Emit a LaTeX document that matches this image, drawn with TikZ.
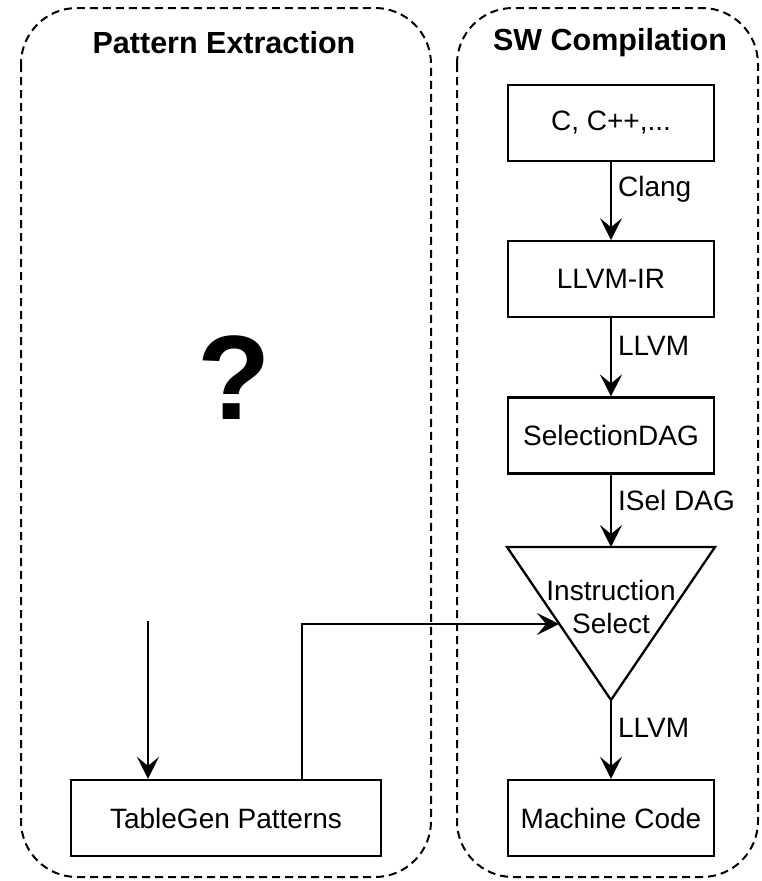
\documentclass[tikz,border=0pt]{standalone}
\usepackage{fontspec}
\setmainfont{Liberation Sans}
\usetikzlibrary{positioning, arrows.meta}

\begin{document}
\begin{tikzpicture}[x=1pt, y=-1pt,
    node distance=78pt,
    group/.style={draw, line width=2pt, dash pattern=on 8pt off 5pt, rounded corners=56pt},
    grouptitle/.style={font=\bfseries\fontsize{30.5}{34}\selectfont},
    stepbox/.style={draw, line width=2.3pt, minimum width=206pt, minimum height=76pt, font=\fontsize{28}{33}\selectfont},
    flow/.style={line width=2.3pt, -{Stealth[length=22pt, width=22pt, inset=9pt]}},
    lbl/.style={right, inner sep=6pt, font=\fontsize{28}{33}\selectfont}]
\useasboundingbox (0,0) rectangle (761,881);
% the two groups
\draw[group] (21,8) rectangle (431,877);
\draw[group] (457,8) rectangle (758,877);
\node[grouptitle] (pe title) at (224,43) {Pattern Extraction};
\node[grouptitle] (sw title) at (610,43) {SW Compilation};
\node[font=\bfseries\fontsize{120}{120}\selectfont] (unknown) at (234,378) {?};
% compilation flow
\node[stepbox] (src) at (611,123) {C, C++,...};
\node[stepbox, below=of src] (ir) {LLVM-IR};
\node[stepbox, below=of ir] (dag) {SelectionDAG};
\coordinate (isel top) at (611,547);
\coordinate (isel tip) at (611,700);
\coordinate (isel in) at (559,624);
\draw[line width=2.3pt, line join=miter] (507,547) -- (715,547) -- (isel tip) -- cycle;
\node[align=center, font=\fontsize{28}{33}\selectfont] (isel) at (611,607) {Instruction\\Select};
\node[stepbox] (mc) at (611,818) {Machine Code};
% patterns
\node[stepbox, minimum width=310pt] (tg) at (226,818) {TableGen Patterns};
\coordinate (tg feed) at (148,621);
% edges
\draw[flow] (src) -- node[lbl, pos=0.35] {Clang} (ir);
\draw[flow] (ir) -- node[lbl, pos=0.35] {LLVM} (dag);
\draw[flow] (dag) -- node[lbl, pos=0.35] {ISel DAG} (isel top);
\draw[flow] (isel tip) -- node[lbl, pos=0.35] {LLVM} (mc);
\draw[flow] (tg feed) -- (tg.north -| tg feed);
\draw[flow] ([xshift=232pt]tg.north west) |- (isel in);
\end{tikzpicture}
\end{document}
